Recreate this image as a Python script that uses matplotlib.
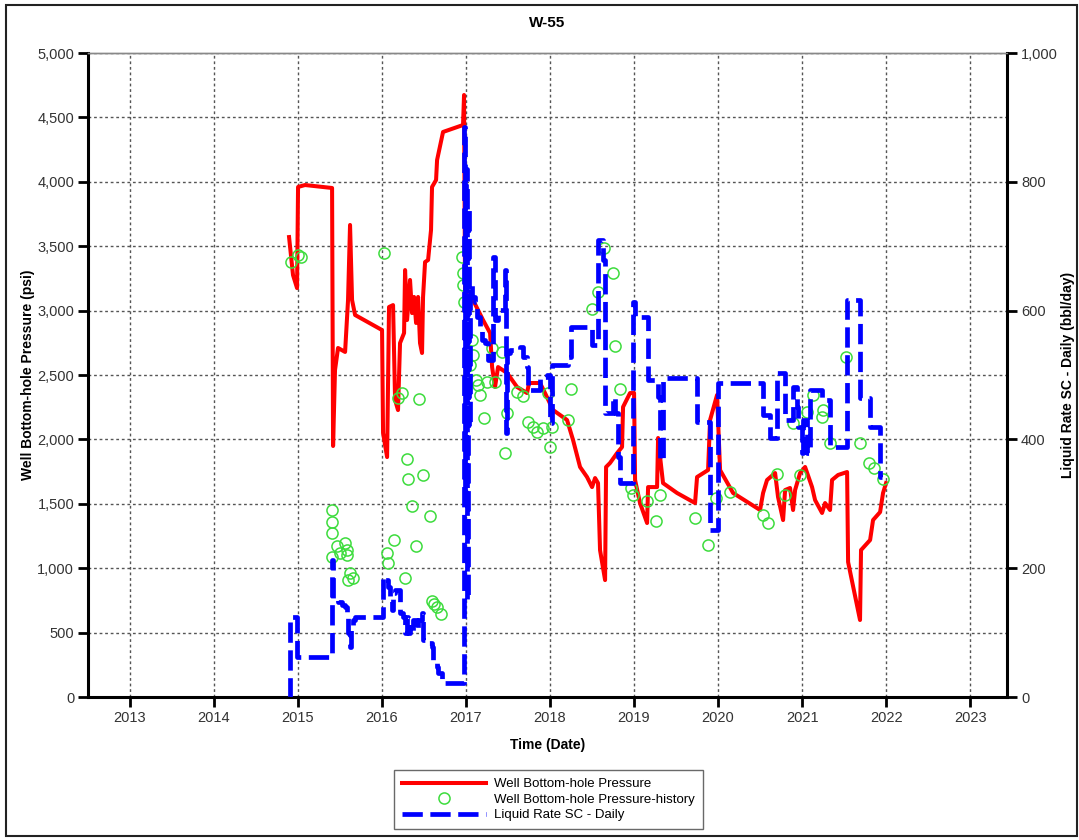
import matplotlib
matplotlib.use("Agg")
import matplotlib.pyplot as plt
import matplotlib.patches as patches
from matplotlib.ticker import FuncFormatter, MultipleLocator

plt.rcParams['font.family'] = ['Liberation Sans', 'DejaVu Sans']

# well bottom-hole pressure, simulated (decimal year, psi)
bhp_t = [2014.893, 2014.940, 2014.988, 2015.000, 2015.083, 2015.405, 2015.417, 2015.440, 2015.476, 2015.560,
         2015.595, 2015.619, 2015.643, 2015.679, 2016.000, 2016.012, 2016.060, 2016.083, 2016.131, 2016.155,
         2016.190, 2016.214, 2016.262, 2016.274, 2016.298, 2016.333, 2016.357, 2016.381, 2016.405, 2016.429,
         2016.452, 2016.476, 2016.488, 2016.512, 2016.548, 2016.583, 2016.595, 2016.643, 2016.655, 2016.726,
         2016.964, 2016.976, 2016.988, 2017.083, 2017.202, 2017.286, 2017.310, 2017.345, 2017.381, 2017.488,
         2017.607, 2017.726, 2017.750, 2017.881, 2017.940, 2018.036, 2018.202, 2018.274, 2018.357, 2018.440,
         2018.500, 2018.536, 2018.571, 2018.595, 2018.655, 2018.667, 2018.714, 2018.798, 2018.857, 2018.869,
         2018.952, 2019.000, 2019.012, 2019.071, 2019.155, 2019.167, 2019.274, 2019.286, 2019.310, 2019.345,
         2019.512, 2019.726, 2019.750, 2019.881, 2019.905, 2019.988, 2020.024, 2020.179, 2020.500, 2020.536,
         2020.583, 2020.679, 2020.714, 2020.774, 2020.798, 2020.857, 2020.893, 2020.917, 2020.976, 2021.036,
         2021.119, 2021.155, 2021.238, 2021.274, 2021.333, 2021.357, 2021.429, 2021.536, 2021.548, 2021.690,
         2021.702, 2021.810, 2021.845, 2021.929, 2021.964, 2022.000]
bhp_p = [3571, 3276, 3175, 3960, 3975, 3952, 1949, 2539, 2710, 2679,
         3082, 3665, 3082, 2966, 2849, 2050, 1863, 3028, 3043, 2306,
         2228, 2748, 2826, 3315, 2927, 3238, 2981, 3106, 2904, 3106,
         2748, 2671, 3106, 3377, 3393, 3626, 3960, 4014, 4169, 4387,
         4441, 4674, 3137, 3082, 2927, 2826, 2562, 2407, 2562, 2516,
         2407, 2360, 2438, 2438, 2360, 2228, 2151, 1995, 1786, 1708,
         1630, 1700, 1661, 1141, 908, 1786, 1817, 1894, 1941, 2252,
         2360, 2360, 1685, 1506, 1351, 1630, 1630, 2011, 1863, 1661,
         1584, 1506, 1708, 1762, 2151, 2345, 1762, 1584, 1452, 1584,
         1685, 1739, 1553, 1374, 1607, 1623, 1452, 1607, 1739, 1786,
         1630, 1529, 1429, 1506, 1452, 1685, 1724, 1747, 1048, 598,
         1141, 1219, 1374, 1436, 1584, 1661]

# measured pressure history (decimal year, psi)
hist_t = [2014.917, 2015.000, 2015.036, 2016.024, 2015.405, 2015.405, 2015.405, 2015.405, 2015.464, 2015.500,
          2015.560, 2015.583, 2015.583, 2015.619, 2015.595, 2015.655, 2016.060, 2016.071, 2016.143, 2016.274,
          2016.298, 2016.310, 2016.357, 2016.405, 2016.488, 2016.571, 2016.595, 2016.619, 2016.655, 2016.702,
          2016.190, 2016.238, 2016.440, 2016.952, 2016.964, 2016.964, 2016.976, 2017.071, 2017.083, 2017.048,
          2017.119, 2017.143, 2017.167, 2017.250, 2017.310, 2017.345, 2017.429, 2017.214, 2017.464, 2017.488,
          2017.607, 2017.679, 2017.738, 2017.798, 2017.845, 2017.917, 2017.976, 2018.024, 2018.000, 2018.214,
          2018.250, 2018.500, 2018.571, 2018.643, 2018.750, 2018.774, 2018.833, 2018.964, 2018.988, 2019.155,
          2019.310, 2019.262, 2019.726, 2019.881, 2019.976, 2020.143, 2020.536, 2020.595, 2020.702, 2020.798,
          2020.893, 2020.976, 2021.060, 2021.131, 2021.238, 2021.250, 2021.333, 2021.524, 2021.690, 2021.798,
          2021.857, 2021.964]
hist_p = [3377, 3432, 3416, 3447, 1452, 1359, 1273, 1087, 1172, 1118,
          1196, 1141, 1102, 963, 908, 924, 1118, 1040, 1219, 924,
          1848, 1693, 1483, 1172, 1724, 1405, 745, 722, 699, 644,
          2321, 2360, 2314, 3416, 3292, 3199, 3067, 2772, 2655, 2578,
          2461, 2422, 2345, 2446, 2710, 2446, 2679, 2166, 1894, 2205,
          2368, 2337, 2135, 2096, 2057, 2089, 2360, 2096, 1941, 2151,
          2391, 3012, 3144, 3486, 3292, 2725, 2391, 1623, 1568, 1522,
          1568, 1366, 1390, 1180, 1545, 1592, 1413, 1351, 1731, 1568,
          2127, 1724, 2213, 2345, 2174, 2228, 1972, 2640, 1972, 1817,
          1778, 1693]

# liquid rate SC daily, stepwise (decimal year, bbl/day)
rate_t = [2014.893, 2014.900, 2014.988, 2015.405, 2015.417, 2015.476, 2015.524, 2015.560, 2015.583, 2015.595,
          2015.619, 2015.631, 2015.655, 2015.679, 2016.012, 2016.036, 2016.071, 2016.095, 2016.119, 2016.131,
          2016.155, 2016.214, 2016.250, 2016.274, 2016.298, 2016.310, 2016.333, 2016.357, 2016.369, 2016.417,
          2016.429, 2016.476, 2016.488, 2016.536, 2016.595, 2016.607, 2016.655, 2016.667, 2016.714, 2016.976,
          2016.988, 2017.000, 2017.012, 2017.024, 2017.036, 2017.048, 2017.071, 2017.107, 2017.131, 2017.167,
          2017.190, 2017.226, 2017.262, 2017.321, 2017.345, 2017.381, 2017.464, 2017.476, 2017.488, 2017.524,
          2017.643, 2017.679, 2017.726, 2017.738, 2017.881, 2017.964, 2018.000, 2018.024, 2018.214, 2018.250,
          2018.500, 2018.571, 2018.631, 2018.655, 2018.750, 2018.774, 2018.810, 2018.833, 2018.988, 2019.012,
          2019.167, 2019.286, 2019.310, 2019.345, 2019.750, 2019.905, 2020.000, 2020.536, 2020.619, 2020.702,
          2020.798, 2020.893, 2020.940, 2020.952, 2021.000, 2021.012, 2021.060, 2021.095, 2021.238, 2021.333,
          2021.536, 2021.690, 2021.810, 2021.929, 2021.950]
rate_q = [0, 124, 62, 213, 151, 148, 143, 140, 124, 99,
          78, 109, 120, 124, 186, 182, 171, 151, 135, 161,
          166, 130, 124, 99, 124, 99, 109, 99, 120, 104,
          120, 130, 88, 84, 78, 57, 47, 37, 22, 885,
          300, 820, 150, 760, 420, 640, 621, 613, 590, 570,
          554, 550, 523, 683, 585, 601, 663, 410, 534, 539,
          543, 528, 512, 477, 497, 500, 425, 516, 528, 574,
          547, 710, 679, 441, 466, 441, 373, 332, 613, 590,
          492, 466, 368, 495, 427, 259, 488, 438, 402, 503,
          430, 481, 450, 419, 379, 430, 379, 477, 461, 388,
          616, 464, 419, 342, 342]

years = list(range(2013, 2024))

fig = plt.figure(figsize=(10.79, 8.40), dpi=100)
ax = fig.add_axes([0.0816, 0.1702, 0.8517, 0.7667])
ax2 = ax.twinx()

l1, = ax.plot(bhp_t, bhp_p, color='#ff0000', lw=2.9, label='Well Bottom-hole Pressure', zorder=3)
l2, = ax.plot(hist_t, hist_p, linestyle='none', marker='o', ms=8, mfc='none', mec='#3ddc3d', mew=1.1,
              label='Well Bottom-hole Pressure-history', zorder=4)
l3, = ax2.plot(rate_t, rate_q, color='#0000ff', lw=3.4, linestyle=(0, (4.3, 1.6)), drawstyle='steps-post',
               label='Liquid Rate SC - Daily')

ax.set_xlim(2012.5, 2023.44)
ax.set_ylim(0, 5000)
ax2.set_ylim(0, 1000)
ax.set_xticks(years)
ax.xaxis.set_major_formatter(FuncFormatter(lambda v, p: '%d' % v))
ax.yaxis.set_major_locator(MultipleLocator(500))
ax2.yaxis.set_major_locator(MultipleLocator(200))
comma = FuncFormatter(lambda v, p: '{:,.0f}'.format(v))
ax.yaxis.set_major_formatter(comma)
ax2.yaxis.set_major_formatter(comma)

ax.grid(True, linestyle=(0, (2, 2)), color='#555555', lw=1)

for a in (ax, ax2):
    a.tick_params(length=7.5, width=2, labelsize=10.5, labelcolor='#333333', pad=2.5, color='black')
    a.spines['top'].set_color('#888888')
    a.spines['top'].set_linewidth(1)
ax.spines['left'].set_linewidth(2.2)
ax.spines['bottom'].set_linewidth(2.2)
ax.spines['right'].set_visible(False)
ax2.spines['right'].set_linewidth(2.2)
ax2.spines['left'].set_visible(False)
ax2.spines['bottom'].set_visible(False)

fig.text(0.5075, 0.973, 'W-55', ha='center', va='center', weight='bold', size=11)
fig.text(0.026, 0.5536, 'Well Bottom-hole Pressure (psi)', rotation=90, ha='center', va='center',
         weight='bold', size=10)
fig.text(0.99, 0.5536, 'Liquid Rate SC - Daily (bbl/day)', rotation=90, ha='center', va='center',
         weight='bold', size=10)
fig.text(0.5075, 0.113, 'Time (Date)', ha='center', va='center', weight='bold', size=10)

leg = fig.legend(handles=[l1, l2, l3], loc='center', bbox_to_anchor=(0.508, 0.048), fontsize=9.5,
                 handlelength=6.4, labelspacing=0.25, handletextpad=0.6, borderpad=0.6, fancybox=False)
leg.get_frame().set_edgecolor('#444444')
leg.get_frame().set_linewidth(1)

fig.patches.append(patches.Rectangle((6 / 1079, 1 - 836 / 840), 1071 / 1079, 831 / 840,
                                     transform=fig.transFigure, fill=False, ec='#222222', lw=1.5))

fig.savefig('out.png', dpi=100)
